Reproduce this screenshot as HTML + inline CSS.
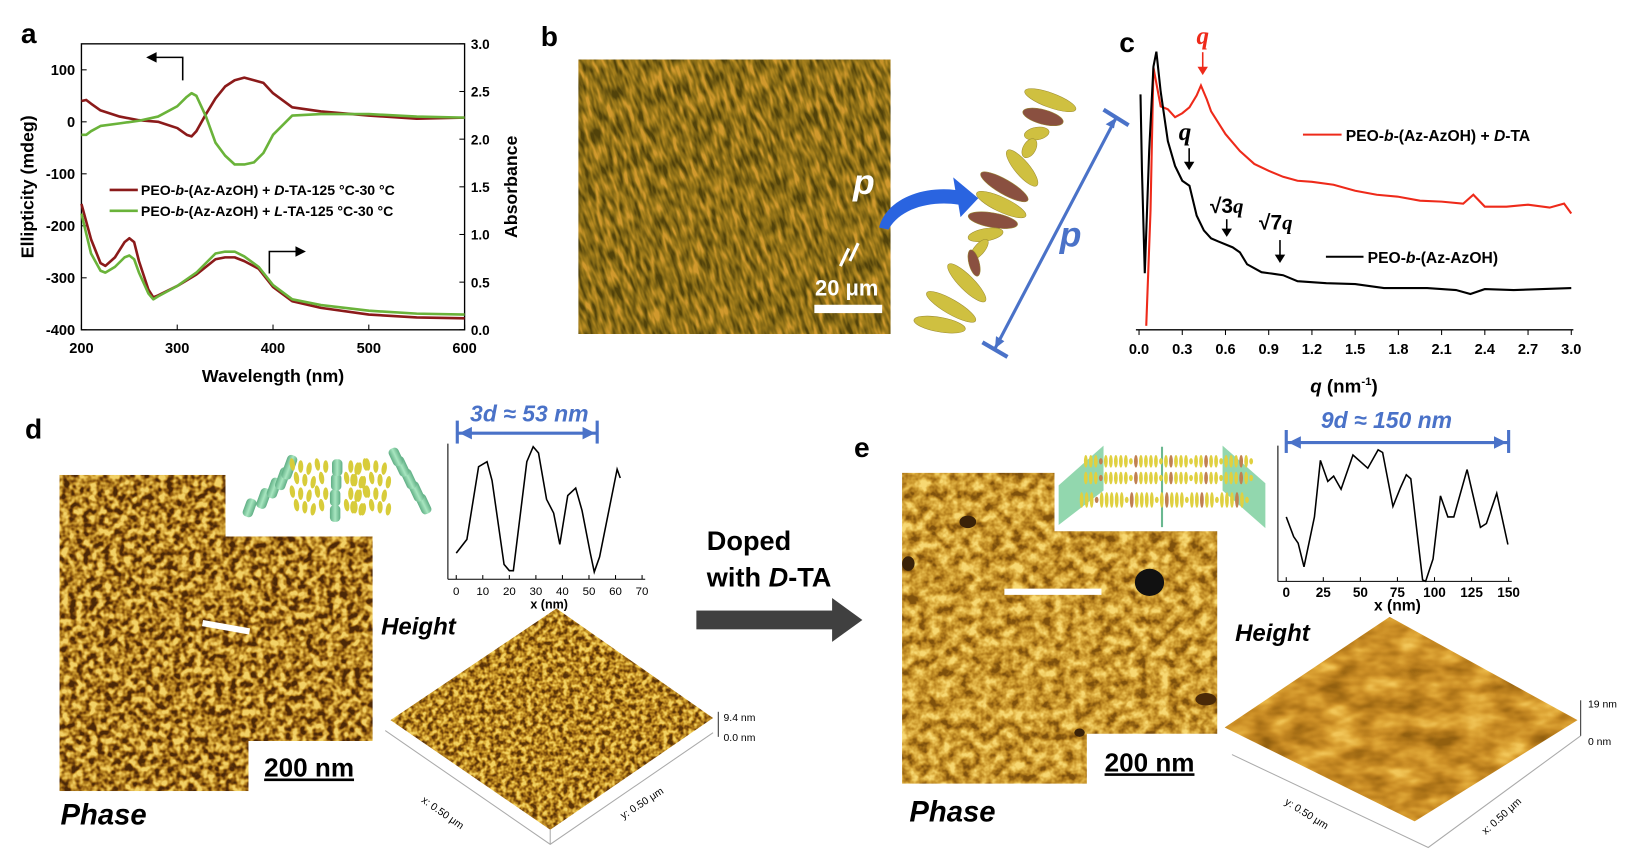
<!DOCTYPE html>
<html><head><meta charset="utf-8">
<style>
body{margin:0;background:#fff;width:1636px;height:860px;overflow:hidden;font-family:"Liberation Sans",Arial,sans-serif}
svg{position:absolute;left:0;top:0}
</style></head>
<body>
<svg id="fig" width="1636" height="860" viewBox="0 0 1567 824" preserveAspectRatio="none">
<defs>
<filter id="fD" x="0" y="0" width="100%" height="100%" color-interpolation-filters="sRGB">
<feTurbulence type="fractalNoise" baseFrequency="0.15" numOctaves="2" seed="4"/>
<feColorMatrix type="matrix" values="2.6 0 0 0 -0.8  2.6 0 0 0 -0.8  2.6 0 0 0 -0.8  0 0 0 0 1"/>
<feComponentTransfer><feFuncR type="table" tableValues="0.3 0.5 0.7 0.86 0.95"/><feFuncG type="table" tableValues="0.16 0.3 0.5 0.68 0.82"/><feFuncB type="table" tableValues="0.03 0.05 0.12 0.25 0.4"/></feComponentTransfer>
</filter>
<filter id="fH1" x="0" y="0" width="100%" height="100%" color-interpolation-filters="sRGB">
<feTurbulence type="fractalNoise" baseFrequency="0.2" numOctaves="2" seed="9"/>
<feColorMatrix type="matrix" values="2.4 0 0 0 -0.7  2.4 0 0 0 -0.7  2.4 0 0 0 -0.7  0 0 0 0 1"/>
<feComponentTransfer><feFuncR type="table" tableValues="0.35 0.55 0.72 0.86 0.95"/><feFuncG type="table" tableValues="0.2 0.35 0.52 0.68 0.82"/><feFuncB type="table" tableValues="0.03 0.06 0.12 0.22 0.38"/></feComponentTransfer>
</filter>
<filter id="fE" x="0" y="0" width="100%" height="100%" color-interpolation-filters="sRGB">
<feTurbulence type="fractalNoise" baseFrequency="0.1" numOctaves="3" seed="11"/>
<feColorMatrix type="matrix" values="2 0 0 0 -0.5  2 0 0 0 -0.5  2 0 0 0 -0.5  0 0 0 0 1"/>
<feComponentTransfer><feFuncR type="table" tableValues="0.5 0.68 0.8 0.9 0.97"/><feFuncG type="table" tableValues="0.32 0.47 0.6 0.73 0.85"/><feFuncB type="table" tableValues="0.05 0.1 0.18 0.3 0.45"/></feComponentTransfer>
</filter>
<filter id="fH2" x="0" y="0" width="100%" height="100%" color-interpolation-filters="sRGB">
<feTurbulence type="fractalNoise" baseFrequency="0.03 0.06" numOctaves="3" seed="2"/>
<feColorMatrix type="matrix" values="1.6 0 0 0 -0.3  1.6 0 0 0 -0.3  1.6 0 0 0 -0.3  0 0 0 0 1"/>
<feComponentTransfer><feFuncR type="table" tableValues="0.58 0.7 0.8 0.88 0.95"/><feFuncG type="table" tableValues="0.38 0.47 0.56 0.66 0.78"/><feFuncB type="table" tableValues="0.06 0.1 0.15 0.22 0.35"/></feComponentTransfer>
</filter>
<filter id="fB" x="0" y="0" width="100%" height="100%" color-interpolation-filters="sRGB">
<feTurbulence type="fractalNoise" baseFrequency="0.22 0.06" numOctaves="2" seed="7"/>
<feColorMatrix type="matrix" values="2.2 0 0 0 -0.6  2.2 0 0 0 -0.6  2.2 0 0 0 -0.6  0 0 0 0 1"/>
<feComponentTransfer><feFuncR type="table" tableValues="0.32 0.45 0.56 0.68 0.82"/><feFuncG type="table" tableValues="0.26 0.36 0.44 0.52 0.6"/><feFuncB type="table" tableValues="0.04 0.07 0.09 0.12 0.18"/></feComponentTransfer>
</filter>
<clipPath id="clipB"><rect x="554" y="57" width="299" height="263"/></clipPath>
<clipPath id="clipD"><path d="M57,455H216V514H357V710H238V758H57Z"/></clipPath>
<clipPath id="clipE"><path d="M864,453H1010V509H1166V703H1041V751H864Z"/></clipPath>
<clipPath id="clipH1"><path d="M374,690L533,583L683,688L527,795Z"/></clipPath>
<clipPath id="clipH2"><path d="M1173,697L1331,591L1511,690L1355,787Z"/></clipPath>
<linearGradient id="cyl" x1="0" x2="1"><stop offset="0" stop-color="#5fae84"/><stop offset="0.5" stop-color="#a8e6c0"/><stop offset="1" stop-color="#5fae84"/></linearGradient>
</defs>

<g font-weight="bold" font-size="27" fill="#000">
<text x="20" y="41">a</text>
<text x="518" y="44">b</text>
<text x="1072" y="50">c</text>
<text x="24" y="420">d</text>
<text x="818" y="438">e</text>
</g>

<g id="pa"></g>

<g>
<g clip-path="url(#clipB)">
<g transform="rotate(-18 703 188)"><rect x="480" y="0" width="450" height="380" fill="#a08020" filter="url(#fB)"/></g>
</g>
<text x="817" y="186" font-size="34" font-weight="bold" font-style="italic" fill="#fff">p</text>
<line x1="805" y1="255" x2="813" y2="238" stroke="#fff" stroke-width="3"/>
<line x1="814" y1="250" x2="822" y2="233" stroke="#fff" stroke-width="3"/>
<text x="811" y="283" font-size="21" font-weight="bold" fill="#fff" text-anchor="middle">20 μm</text>
<rect x="780" y="292" width="65" height="8" fill="#fff"/>
</g>
<g>
<path d="M842,218 C848,193 880,178 915,182 L913,170 L937,190 L920,208 L918,196 C890,192 862,200 851,220 Z" fill="#2a64e0"/>
<g id="ells"></g>
<line x1="1069" y1="113" x2="953" y2="334" stroke="#4a72c8" stroke-width="3"/>
<line x1="1057" y1="105" x2="1081" y2="120" stroke="#4a72c8" stroke-width="4"/>
<line x1="941" y1="328" x2="965" y2="342" stroke="#4a72c8" stroke-width="4"/>
<path d="M1069,113 l-10,6 l8,4 Z M953,334 l1,-12 l8,5 Z" fill="#4a72c8"/>
<text x="1015" y="236" font-size="34" font-weight="bold" font-style="italic" fill="#4a72c8">p</text>
</g>

<g id="pc"></g>

<g>
<g clip-path="url(#clipD)"><rect x="57" y="455" width="300" height="303" fill="#c08a28" filter="url(#fD)"/></g>
<line x1="194" y1="597" x2="239" y2="605" stroke="#fff" stroke-width="6"/>
<text x="253" y="744" font-size="25" font-weight="bold" text-decoration="underline">200 nm</text>
<text x="58" y="790" font-size="28" font-weight="bold" font-style="italic">Phase</text>
</g>
<g id="cylinders"></g>
<g id="pd"></g>
<g>
<text x="365" y="608" font-size="23" font-weight="bold" font-style="italic">Height</text>
<g clip-path="url(#clipH1)"><rect x="370" y="580" width="320" height="220" fill="#b8882c" filter="url(#fH1)"/></g>
<path d="M369,700 L527,809 L683,702 M527,795 L527,809" fill="none" stroke="#aaa" stroke-width="1"/>
<line x1="688" y1="682" x2="688" y2="706" stroke="#333"/>
<text x="693" y="691" font-size="10">9.4 nm</text><text x="693" y="710" font-size="10">0.0 nm</text>
<text x="403" y="768" font-size="10" transform="rotate(35 403 768)">x: 0.50 μm</text>
<text x="597" y="785" font-size="10" transform="rotate(-33 597 785)">y: 0.50 μm</text>
</g>

<g>
<text x="677" y="527" font-size="26" font-weight="bold">Doped</text>
<text x="677" y="562" font-size="26" font-weight="bold">with <tspan font-style="italic">D</tspan>-TA</text>
<rect x="667" y="585" width="132" height="18" fill="#404040"/>
<path d="M797,573 L826,594 L797,615 Z" fill="#404040"/>
</g>

<g>
<g clip-path="url(#clipE)">
<rect x="864" y="453" width="302" height="298" fill="#c8922e" filter="url(#fE)"/>
<ellipse cx="1101" cy="558" rx="14" ry="13" fill="#111"/>
<ellipse cx="927" cy="500" rx="8" ry="6" fill="#3a2208"/>
<ellipse cx="870" cy="540" rx="6" ry="7" fill="#3a2208"/>
<ellipse cx="1155" cy="670" rx="10" ry="6" fill="#4a2a08"/>
<ellipse cx="1034" cy="702" rx="5" ry="4" fill="#3a2208"/>
</g>
<line x1="962" y1="567" x2="1055" y2="567" stroke="#fff" stroke-width="6"/>
<text x="1058" y="739" font-size="25" font-weight="bold" text-decoration="underline">200 nm</text>
<text x="871" y="787" font-size="28" font-weight="bold" font-style="italic">Phase</text>
</g>
<g>
<path d="M1057,427 L1014,465 L1014,503 L1057,470Z" fill="#7fd0a0" opacity="0.85"/>
<path d="M1171,427 L1212,463 L1212,506 L1171,470Z" fill="#7fd0a0" opacity="0.85"/>
<line x1="1113" y1="428" x2="1113" y2="505" stroke="#6ab890" stroke-width="2"/>
<g id="lam"></g>
</g>
<g id="pe"></g>
<g>
<text x="1183" y="614" font-size="23" font-weight="bold" font-style="italic">Height</text>
<g clip-path="url(#clipH2)"><rect x="1170" y="588" width="345" height="202" fill="#b98a30" filter="url(#fH2)"/></g>
<path d="M1180,723 L1368,812 L1514,705" fill="none" stroke="#aaa"/>
<line x1="1514" y1="671" x2="1514" y2="705" stroke="#333"/>
<text x="1521" y="678" font-size="10">19 nm</text><text x="1521" y="714" font-size="10">0 nm</text>
<text x="1230" y="770" font-size="10" transform="rotate(32 1230 770)">y: 0.50 μm</text>
<text x="1423" y="800" font-size="10" transform="rotate(-42 1423 800)">x: 0.50 μm</text>
</g>
</svg>

<script>
// ===== Panel a data =====
const cdWl = [200,205,210,220,240,260,280,300,310,315,320,330,340,350,360,370,380,390,400,420,450,500,550,600];
const cdRed = [40,42,35,22,10,3,0,-12,-25,-28,-18,15,45,68,80,85,80,75,55,28,20,12,6,8];
const cdGreen = [-25,-25,-18,-8,-3,2,10,30,48,55,50,10,-40,-65,-82,-82,-78,-60,-25,12,15,15,10,8];
const absWl = [200,210,220,225,235,245,250,255,260,270,275,280,300,320,340,350,360,370,385,400,420,450,500,550,600];
const absRed = [1.32,0.95,0.7,0.67,0.76,0.92,0.96,0.92,0.72,0.42,0.34,0.36,0.46,0.58,0.74,0.76,0.76,0.72,0.64,0.45,0.3,0.23,0.16,0.13,0.12];
const absGreen = [1.22,0.8,0.62,0.6,0.66,0.76,0.78,0.74,0.6,0.38,0.32,0.35,0.46,0.6,0.8,0.82,0.82,0.77,0.66,0.47,0.32,0.26,0.2,0.17,0.16];
const aXTicks = [200,300,400,500,600];
const aLTicks = [100,0,-100,-200,-300,-400];
const aRTicks = [3.0,2.5,2.0,1.5,1.0,0.5,0.0];
// ===== Panel c data =====
const qRed = [0.05,0.08,0.1,0.15,0.2,0.25,0.3,0.35,0.4,0.43,0.47,0.5,0.6,0.7,0.8,0.9,1.0,1.1,1.2,1.35,1.5,1.65,1.8,1.95,2.1,2.25,2.32,2.4,2.55,2.7,2.85,2.95,3.0];
const iRed = [4,120,264,225,222,214,218,224,236,246,232,220,197,180,167,160,154,150,149,146,140,136,134,130,129,127,136,124,124,126,123,127,117];
const qBlack = [0.01,0.02,0.04,0.07,0.1,0.12,0.15,0.2,0.25,0.3,0.35,0.4,0.45,0.5,0.55,0.65,0.7,0.75,0.85,0.95,1.0,1.1,1.3,1.5,1.7,2.0,2.2,2.3,2.4,2.6,2.8,3.0];
const iBlack = [237,160,57,180,265,280,240,190,165,150,145,115,100,92,89,83,78,66,58,56,55,49,47,46,42,42,40,36,41,40,41,42];
const cXTicks = [0.0,0.3,0.6,0.9,1.2,1.5,1.8,2.1,2.4,2.7,3.0];
// ===== Profiles =====
const dX = [0,4,8.4,11.6,13.5,18,20,21.5,26.6,29,31,34,36.7,39,42,45,47.4,50.5,52,54,60.6,61.8];
const dH = [0.15,0.26,0.84,0.88,0.73,0.06,0.01,0.01,0.88,1.0,0.95,0.58,0.47,0.22,0.61,0.67,0.49,0.15,0.0,0.12,0.82,0.75];
const dTicks = [0,10,20,30,40,50,60,70];
const eX = [0,5,8,12,19,23,28,32,37,45,55,62,65,72,77,81,84,92,94,99,104,109,113,122,131,135,142,149.5];
const eH = [0.49,0.34,0.29,0.11,0.49,0.92,0.76,0.8,0.7,0.96,0.86,1.0,0.98,0.57,0.71,0.81,0.78,0.01,0.0,0.17,0.65,0.49,0.49,0.85,0.41,0.44,0.67,0.28];
const eTicks = [0,25,50,75,100,125,150];

const NS="http://www.w3.org/2000/svg";
function el(parent,tag,attrs,text){const e=document.createElementNS(NS,tag);for(const k in attrs)e.setAttribute(k,attrs[k]);if(text!==undefined)e.textContent=text;parent.appendChild(e);return e;}
function pathFrom(xs,ys,fx,fy){return xs.map((x,i)=>(i?'L':'M')+fx(x).toFixed(1)+','+fy(ys[i]).toFixed(1)).join('');}

(function(){
const g=document.getElementById('pa');
const L=78,R=445,T=42,B=316;
const fx=w=>L+(w-200)/400*(R-L);
const fyL=v=>T+(150-v)/550*(B-T);
const fyR=v=>B-v/3*(B-T);
const frame=el(g,'rect',{x:L,y:T,width:R-L,height:B-T,fill:'none',stroke:'#000','stroke-width':1.3});


aXTicks.forEach(t=>{el(g,'line',{x1:fx(t),x2:fx(t),y1:B,y2:B-5,stroke:'#000'});
 const tl=el(g,'text',{x:fx(t),y:B+22,'font-size':14,'font-weight':'bold','text-anchor':'middle'},t);
 
 });
aLTicks.forEach(t=>{el(g,'line',{x1:L,x2:L+5,y1:fyL(t),y2:fyL(t),stroke:'#000'});
 const tl=el(g,'text',{x:L-6,y:fyL(t)+5,'font-size':14,'font-weight':'bold','text-anchor':'end'},t);
 
 });
aRTicks.forEach(t=>{el(g,'line',{x1:R,x2:R-5,y1:fyR(t),y2:fyR(t),stroke:'#000'});
 const tl=el(g,'text',{x:R+6,y:fyR(t)+5,'font-size':13,'font-weight':'bold'},t.toFixed(1));
 
 });
const xt=el(g,'text',{x:(L+R)/2,y:B+50,'font-size':17,'font-weight':'bold','text-anchor':'middle'},'Wavelength (nm)');


const yl=el(g,'text',{x:32,y:(T+B)/2,'font-size':17,'font-weight':'bold','text-anchor':'middle',transform:`rotate(-90 32 ${(T+B)/2})`},'Ellipticity (mdeg)');


const yr=el(g,'text',{x:495,y:(T+B)/2,'font-size':17,'font-weight':'bold','text-anchor':'middle',transform:`rotate(-90 495 ${(T+B)/2})`},'Absorbance');


const RED='#8b1a1a',GRN='#6ab33a';
[[cdWl,cdRed,fyL,RED,'cd-red-line'],[cdWl,cdGreen,fyL,GRN,'cd-green-line'],[absWl,absRed,fyR,RED,'abs-red-line'],[absWl,absGreen,fyR,GRN,'abs-green-line']].forEach(s=>{
 const p=el(g,'path',{d:pathFrom(s[0],s[1],fx,s[2]),fill:'none',stroke:s[3],'stroke-width':2.5,'stroke-linejoin':'round'});
 
 });
el(g,'path',{d:'M175,77 V55 H148',fill:'none',stroke:'#000','stroke-width':1.5});
el(g,'path',{d:'M140,55 L150,50 L150,60Z',fill:'#000'});
el(g,'path',{d:'M258,262 V241 H285',fill:'none',stroke:'#000','stroke-width':1.5});
el(g,'path',{d:'M293,241 L283,236 L283,246Z',fill:'#000'});
[[RED,187,'D'],[GRN,207,'L']].forEach(l=>{
 const lg=el(g,'g',{});
 
 
 el(lg,'line',{x1:105,x2:132,y1:l[1]-5,y2:l[1]-5,stroke:l[0],'stroke-width':2.5});
 const t=el(lg,'text',{x:135,y:l[1],'font-size':13.5,'font-weight':'bold'});
 t.innerHTML=`PEO-<tspan font-style="italic">b</tspan>-(Az-AzOH) + <tspan font-style="italic">${l[2]}</tspan>-TA-125 °C-30 °C`;
});
})();

(function(){
const g=document.getElementById('ells');
const Y='#cfc040',Br='#8a5040';
const E=[[1006,96,26,7,20,Y],[999,112,20,7,15,Br],[993,128,12,6,-10,Y],[986,142,10,6,-60,Y],[979,161,22,7,50,Y],[962,179,26,7,30,Br],[959,196,26,7,25,Y],[951,211,24,7,10,Br],[944,225,17,6,-10,Y],[938,239,12,5,-50,Y],[933,252,13,5,75,Br],[926,271,25,7,45,Y],[911,294,27,7,30,Y],[900,311,25,7,10,Y]];
E.forEach(e=>{const c=el(g,'ellipse',{cx:e[0],cy:e[1],rx:e[2],ry:e[3],fill:e[5],stroke:'#9a8a30','stroke-width':0.5,transform:`rotate(${e[4]} ${e[0]} ${e[1]})`});
 
 });
})();

(function(){
const g=document.getElementById('pc');
const L=1088,R=1505,T=40,B=316;
const x0=1091;
const fx=q=>x0+q/3*(R-x0);
const fy=v=>B-v/290*(B-T);
el(g,'line',{x1:L,x2:R+2,y1:B,y2:B,stroke:'#000','stroke-width':1.3});
cXTicks.forEach(t=>{el(g,'line',{x1:fx(t),x2:fx(t),y1:B,y2:B+5,stroke:'#000'});
 const tl=el(g,'text',{x:fx(t),y:B+23,'font-size':14,'font-weight':'bold','text-anchor':'middle'},t.toFixed(1));
 
 });
const xt=el(g,'text',{x:1255,y:376,'font-size':18,'font-weight':'bold'});
xt.innerHTML='<tspan font-style="italic">q</tspan> (nm<tspan font-size="11" dy="-7">-1</tspan><tspan dy="7">)</tspan>';


const pr=el(g,'path',{d:pathFrom(qRed,iRed,fx,fy),fill:'none',stroke:'#ee2a1a','stroke-width':2});


const pb=el(g,'path',{d:pathFrom(qBlack,iBlack,fx,fy),fill:'none',stroke:'#000','stroke-width':2});


el(g,'line',{x1:1248,x2:1285,y1:129,y2:129,stroke:'#ee2a1a','stroke-width':2});
el(g,'text',{x:1289,y:135,'font-size':15,'font-weight':'bold'}).innerHTML='PEO-<tspan font-style="italic">b</tspan>-(Az-AzOH) + <tspan font-style="italic">D</tspan>-TA';
el(g,'line',{x1:1270,x2:1306,y1:246,y2:246,stroke:'#000','stroke-width':2});
el(g,'text',{x:1310,y:252,'font-size':15,'font-weight':'bold'}).innerHTML='PEO-<tspan font-style="italic">b</tspan>-(Az-AzOH)';
const ann=(x,y1,y2,c)=>{el(g,'line',{x1:x,x2:x,y1:y1,y2:y2-6,stroke:c,'stroke-width':1.5});el(g,'path',{d:`M${x-5},${y2-8}L${x+5},${y2-8}L${x},${y2}Z`,fill:c});};
el(g,'text',{x:1152,y:42,'font-size':24,'font-weight':'bold','font-style':'italic','font-family':'Liberation Serif',fill:'#ee2a1a','text-anchor':'middle'},'q');
ann(1152,50,72,'#ee2a1a');
el(g,'text',{x:1135,y:134,'font-size':24,'font-weight':'bold','font-style':'italic','font-family':'Liberation Serif','text-anchor':'middle'},'q');
ann(1139,142,163,'#000');
el(g,'text',{x:1175,y:204,'font-size':20,'font-weight':'bold','text-anchor':'middle'}).innerHTML='√3<tspan font-style="italic" font-family="Liberation Serif">q</tspan>';
ann(1175,210,227,'#000');
el(g,'text',{x:1222,y:220,'font-size':20,'font-weight':'bold','text-anchor':'middle'}).innerHTML='√7<tspan font-style="italic" font-family="Liberation Serif">q</tspan>';
ann(1226,230,252,'#000');
})();

(function(){
const g=document.getElementById('cylinders');
const cyl=(x,y,h,rot)=>{const c=el(g,'rect',{x:x-5,y:y-h,width:10,height:h,rx:4,fill:'url(#cyl)',transform:`rotate(${rot} ${x} ${y})`});
 
 };
[[236,495,18],[249,487,20],[259,477,20],[267,469,22],[273,459,24]].forEach(c=>cyl(c[0],c[1],c[2],20));
[[321,500],[321,485],[322,470],[323,456]].forEach(c=>cyl(c[0],c[1],16,0));
[[410,492,20],[403,480,20],[396,468,20],[389,456,20],[383,446,18]].forEach(c=>cyl(c[0],c[1],c[2],-25));
for(let i=0;i<14;i++)for(let r=0;r<4;r++){
 let x=280+i*8+(r%2)*4; if(x>312&&x<332)x+=22;
 const y=445+r*13+(i%3)*2;
 if(x>375)continue;
 const c=el(g,'ellipse',{cx:x,cy:y,rx:2.5,ry:6,fill:'#d8cc3a',transform:`rotate(${(i%3)*8-8} ${x} ${y})`});
 
 }
const lg=document.getElementById('lam');
[442,458,479].forEach((y,r)=>{for(let i=0;i<34;i++){
 const x=1040+i*4.8+(r===2?-4:0);
 const c=el(lg,'ellipse',{cx:x,cy:y,rx:1.8,ry:i%6===3?3:6+(r===2?1.5:0),fill:i%7===3?'#c08050':'#e0d040'});
 
 }});
})();

function profile(gid,xs,hs,ticks,L,R,B,yb,hs2,xmax,big){
const g=document.getElementById(gid);
const fx=x=>L+x/xmax*(R-L);
const fy=h=>yb-h*hs2;
el(g,'line',{x1:L-8,x2:R+3,y1:B,y2:B,stroke:'#000'});
el(g,'line',{x1:L-8,x2:L-8,y1:B-130,y2:B,stroke:'#000'});
ticks.forEach(t=>{el(g,'line',{x1:fx(t),x2:fx(t),y1:B,y2:B-4,stroke:'#000'});
 const tl=el(g,'text',{x:fx(t),y:B+15,'font-size':big?13:11,'font-weight':big?'bold':'normal','text-anchor':'middle'},t);
 
 });
el(g,'text',{x:(L+R)/2,y:B+28,'font-size':big?15:12,'font-weight':'bold','text-anchor':'middle'},'x (nm)');
const p=el(g,'path',{d:pathFrom(xs,hs,fx,fy),fill:'none',stroke:'#000','stroke-width':1.5});


}
profile('pd',dX,dH,dTicks,437,615,555,548,120,70,false);
profile('pe',eX,eH,eTicks,1232,1445,557,557,126,150,true);
(function(){
const mk=(gid,x1,x2,y,label,lx,ly)=>{const g=document.getElementById(gid);
 el(g,'line',{x1:x1,x2:x2,y1:y,y2:y,stroke:'#4a72c8','stroke-width':3});
 el(g,'line',{x1:x1,x2:x1,y1:y-12,y2:y+10,stroke:'#4a72c8','stroke-width':3});
 el(g,'line',{x1:x2,x2:x2,y1:y-12,y2:y+10,stroke:'#4a72c8','stroke-width':3});
 el(g,'path',{d:`M${x1+2},${y}l12,-6v12Z M${x2-2},${y}l-12,-6v12Z`,fill:'#4a72c8'});
 const t=el(g,'text',{x:lx,y:ly,'font-size':22,'font-weight':'bold','font-style':'italic',fill:'#4a72c8','text-anchor':'middle'},label);
 
 };
mk('pd',438,572,415,'3d ≈ 53 nm',507,404);
mk('pe',1232,1445,424,'9d ≈ 150 nm',1328,410);
})();
</script>
</body></html>
